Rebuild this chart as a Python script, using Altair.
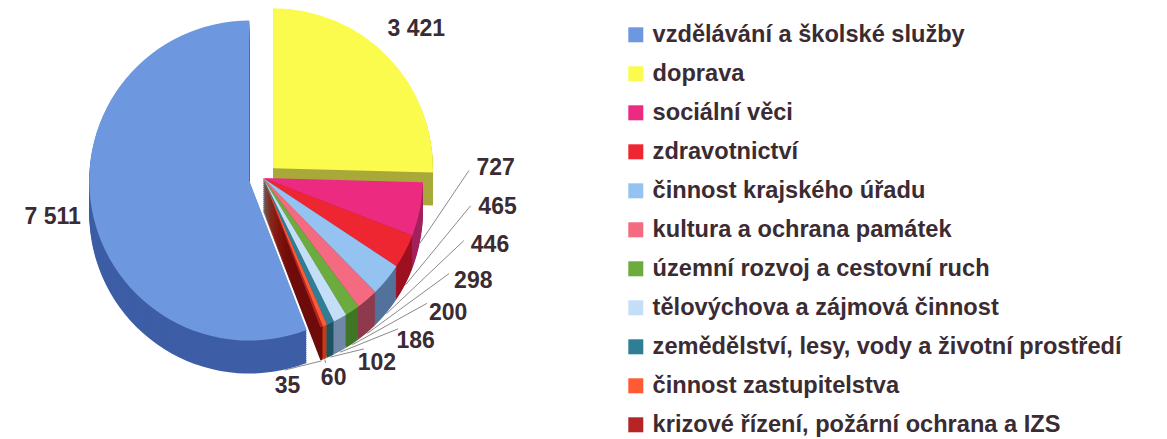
import altair as alt
import pandas as pd

categories = [
    "vzdělávání a školské služby",
    "doprava",
    "sociální věci",
    "zdravotnictví",
    "činnost krajského úřadu",
    "kultura a ochrana památek",
    "územní rozvoj a cestovní ruch",
    "tělovýchova a zájmová činnost",
    "zemědělství, lesy, vody a životní prostředí",
    "činnost zastupitelstva",
    "krizové řízení, požární ochrana a IZS",
]
values = [7511, 3421, 727, 465, 446, 298, 200, 186, 102, 60, 35]

top_colors = ["#6d98e0", "#fbfb4e", "#ec2a80", "#ee2632", "#94c3f2", "#f46a80",
              "#6cab3e", "#c4def8", "#2f7e96", "#ff5a34", "#b52525"]
side_colors = ["#3d5ea6", "#a9a93a", "#a3205e", "#9c1020", "#52729c", "#8f3a4c",
               "#3f7626", "#7088a8", "#1d5560", "#c83a14", "#6e0c0c"]

df = pd.DataFrame({
    "cat": categories,
    "value": values,
    "idx": list(range(len(values))),
    "side": side_colors,
})

CX, CY, R, D = 255, 168, 160, 34
TXT = "#3b2b33"
FONT = "Liberation Sans"

base = (
    alt.Chart(df)
    .transform_calculate(pord="(datum.idx + 10) % 11")
    .transform_window(cum="sum(value)", sort=[alt.SortField("pord")], frame=[None, 0])
    .transform_joinaggregate(total="sum(value)")
    .transform_calculate(
        a0="(datum.cum - datum.value) / datum.total * 2 * PI",
        a1="datum.cum / datum.total * 2 * PI",
    )
    .transform_calculate(
        mid="(datum.a0 + datum.a1) / 2",
        ex="datum.idx <= 1 ? 14 : 0",
        la="(82 + (datum.idx - 2) * 11.5) * PI / 180",
        label="replace(format(datum.value, ','), ',', ' ')",
    )
    .transform_calculate(
        px=f"{CX} + datum.ex * sin(datum.mid)",
        py=f"{CY} - datum.ex * cos(datum.mid)",
    )
)

side = (
    base.transform_calculate(dz=f"sequence(1, {D + 1}, 2)")
    .transform_flatten(["dz"])
    .transform_calculate(sy="datum.py + datum.dz")
    .mark_arc(radius=R)
    .encode(
        x=alt.X("px:Q", scale=None),
        y=alt.Y("sy:Q", scale=None),
        theta=alt.Theta("a0:Q", scale=None, stack=None),
        theta2="a1:Q",
        fill=alt.Fill("side:N", scale=None),
        order=alt.Order("dz:Q", sort="descending"),
    )
)

top = base.mark_arc(radius=R).encode(
    x=alt.X("px:Q", scale=None),
    y=alt.Y("py:Q", scale=None),
    theta=alt.Theta("a0:Q", scale=None, stack=None),
    theta2="a1:Q",
    color=alt.Color(
        "cat:N",
        scale=alt.Scale(domain=categories, range=top_colors),
        legend=alt.Legend(
            title=None,
            orient="none",
            legendX=616,
            legendY=13,
            labelFontSize=23.6,
            labelFont=FONT,
            labelFontWeight="bold",
            labelColor=TXT,
            symbolType="square",
            symbolSize=225,
            symbolStrokeWidth=0,
            symbolOpacity=1,
            rowPadding=14,
            labelLimit=700,
            labelOffset=5,
            padding=0,
        ),
    ),
)

big_labels = (
    base.transform_filter("datum.idx <= 1")
    .transform_calculate(
        lx=f"datum.px + {R + 40} * sin(datum.mid)",
        ly=f"datum.py - {R + 40} * cos(datum.mid)",
    )
    .mark_text(font=FONT, fontSize=23, fontWeight="bold", color=TXT)
    .encode(x=alt.X("lx:Q", scale=None), y=alt.Y("ly:Q", scale=None), text="label:N")
)

small = base.transform_filter("datum.idx >= 2").transform_calculate(
    sx=f"{CX} + {R} * sin(datum.mid)",
    sy=f"{CY} - {R} * cos(datum.mid) + {D}",
    ex2=f"{CX} + {R + 48} * sin(datum.la)",
    ey2=f"{CY + D / 2} - {R + 16} * cos(datum.la)",
    lx=f"{CX} + {R + 75} * sin(datum.la)",
    ly=f"{CY + D / 2} - {R + 32} * cos(datum.la)",
)

leaders = small.mark_rule(color="#8a8a8a", strokeWidth=1).encode(
    x=alt.X("sx:Q", scale=None),
    y=alt.Y("sy:Q", scale=None),
    x2="ex2:Q",
    y2="ey2:Q",
)

small_labels = small.mark_text(font=FONT, fontSize=23, fontWeight="bold", color=TXT).encode(
    x=alt.X("lx:Q", scale=None), y=alt.Y("ly:Q", scale=None), text="label:N"
)

chart = (
    alt.layer(side, top, leaders, big_labels, small_labels)
    .properties(width=1151, height=423, padding=0)
    .configure_view(stroke=None)
)

chart.save("out.html", embed_options={"renderer": "svg", "actions": False})
